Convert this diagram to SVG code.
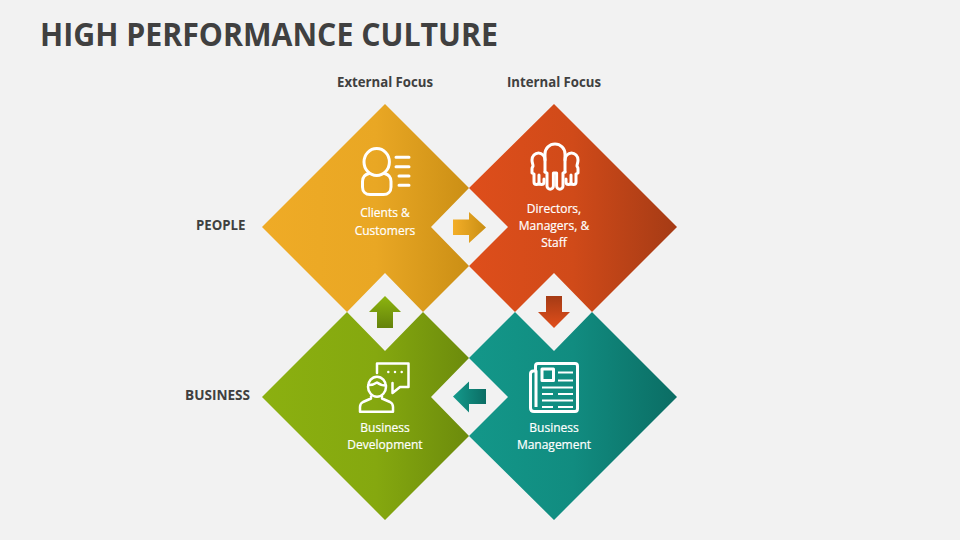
<svg xmlns="http://www.w3.org/2000/svg" width="960" height="540" viewBox="0 0 960 540">
<style>
.bg{fill:#f2f2f2}
.head{font-family:"Open Sans","Liberation Sans",sans-serif;font-weight:700;fill:#404040}
.lab{font-family:"Open Sans","Liberation Sans",sans-serif;font-size:12px;fill:#fff;stroke:#fff;stroke-width:.2px;text-anchor:middle}
.ico{fill:none;stroke:#fff;stroke-width:3;stroke-linejoin:round;stroke-linecap:round}
</style>
<defs>
<linearGradient id="gy" x1="0" x2="1" y1="0" y2="0"><stop offset="0" stop-color="#efab26"/><stop offset="0.55" stop-color="#e9a724"/><stop offset="1" stop-color="#cb8f15"/></linearGradient>
<linearGradient id="gr" x1="0" x2="1" y1="0" y2="0"><stop offset="0" stop-color="#de4e1b"/><stop offset="0.5" stop-color="#d04a19"/><stop offset="1" stop-color="#a53b15"/></linearGradient>
<linearGradient id="gg" x1="0" x2="1" y1="0" y2="0"><stop offset="0" stop-color="#8bb010"/><stop offset="0.55" stop-color="#85a80f"/><stop offset="1" stop-color="#6c8b0c"/></linearGradient>
<linearGradient id="gt" x1="0" x2="1" y1="0" y2="0"><stop offset="0" stop-color="#139789"/><stop offset="0.5" stop-color="#118c80"/><stop offset="1" stop-color="#0b6d64"/></linearGradient>
<linearGradient id="ay" x1="0" x2="1" y1="0" y2="0"><stop offset="0" stop-color="#f3ae28"/><stop offset="1" stop-color="#c98e14"/></linearGradient>
<linearGradient id="at" x1="0" x2="1" y1="0" y2="0"><stop offset="0" stop-color="#149a8c"/><stop offset="1" stop-color="#0b6d64"/></linearGradient>
<linearGradient id="aup" x1="0" x2="0" y1="0" y2="1"><stop offset="0" stop-color="#8db510"/><stop offset="1" stop-color="#64820b"/></linearGradient>
<linearGradient id="adn" x1="0" x2="0" y1="0" y2="1"><stop offset="0" stop-color="#a53b15"/><stop offset="1" stop-color="#e14e1b"/></linearGradient>
</defs>
<rect class="bg" width="960" height="540"/>
<text id="title" class="head" x="40" y="46" font-size="32" textLength="458" lengthAdjust="spacingAndGlyphs">HIGH PERFORMANCE CULTURE</text>
<text class="head" x="337" y="87" font-size="14" textLength="96" lengthAdjust="spacingAndGlyphs">External Focus</text>
<text class="head" x="507" y="87" font-size="14" textLength="94" lengthAdjust="spacingAndGlyphs">Internal Focus</text>
<text class="head" x="196" y="230" font-size="14" textLength="49.500" lengthAdjust="spacingAndGlyphs">PEOPLE</text>
<text class="head" x="185" y="400" font-size="14" textLength="65" lengthAdjust="spacingAndGlyphs">BUSINESS</text>

<g id="node-clients">
<polygon fill="url(#gy)" points="385,104 469,188 431,227 469,266 423,312 385,273 347,312 262,227"/>
<g class="ico"><ellipse cx="376.700" cy="162" rx="12.700" ry="13.500"/><path d="M369,173.500c-4,1-6.500,3.500-6.500,8v5.500c0,4.500 3,7.500 7.500,7.500h13.500c4.500,0 7.500-3 7.500-7.500v-5.500c0-4.500-2.500-7-6.500-8"/><path d="M396,157.300h13M396,166.700h13M399,176h10M399,185.300h10"/></g>
<text class="lab" x="385" y="217">Clients &amp;</text>
<text class="lab" x="385" y="235">Customers</text>
</g>

<g id="node-directors">
<polygon fill="url(#gr)" points="554,104 677,227 592,312 554,273 515,312 469,266 508,227 469,188"/>
<g class="ico"><path d="M545,172V154a10,10 0 0 1 20,0V172"/><path d="M545,172l2,1v13a3.200,3.200 0 0 0 6.400,0v-13h3.200v13a3.200,3.200 0 0 0 6.400,0v-13l2-1"/><path d="M545,160a6.500,7 0 0 0-13,0c0,3 1,4 1,6c0,1-1,1-1,3v4l2,1v8a2.500,2.500 0 0 0 5,0v-7v7a2.500,2.500 0 0 0 5,0v-3"/><path d="M565,160a6.500,7 0 0 1 13,0c0,3-1,4-1,6c0,1 1,1 1,3v4l-2,1v8a2.500,2.500 0 0 1-5,0v-7v7a2.500,2.500 0 0 1-5,0v-3"/></g>
<text class="lab" x="554" y="213">Directors,</text>
<text class="lab" x="554" y="230">Managers, &amp;</text>
<text class="lab" x="554" y="247">Staff</text>
</g>

<g id="node-development">
<polygon fill="url(#gg)" points="347,312 385,351 423,312 469,358 431,397 469,436 385,520 262,397"/>
<g class="ico" style="stroke-width:2.500"><path d="M377,373V363.500H408.500V387H400L392.500,393V383"/><path d="M388.300,372h0M395,372h0M401.700,372h0"/><ellipse cx="377" cy="386.700" rx="9" ry="10"/><path d="M368.500,385c3.500,0 6.500-1 8.500-2.500c2,1.500 5,3 9,3"/><path d="M371,396.500v2l-8,3.500q-3,1.500-3,5v4.800h33v-4.800q0-3.500-3-5l-8-3.500v-2"/></g>
<text class="lab" x="385" y="432">Business</text>
<text class="lab" x="385" y="449">Development</text>
</g>

<g id="node-management">
<polygon fill="url(#gt)" points="554,351 592,312 677,397 554,520 469,436 508,397 469,358 515,312"/>
<g class="ico" style="stroke-linecap:butt"><path d="M535.500,372v-6q0-2.500 2.500-2.500h37q2.500,0 2.500,2.500v42.500q0,3-2.500,3h-41q-3.500,0-3.500-3.500v-34q0-3 3-3h2.500v36"/><rect x="542" y="369" width="11.500" height="11.500"/><path d="M558,372.500h15M558,380.500h15M542,387.500h31M542,394h11M558,394h15M542,400.500h31M542,407h11M558,407h15" style="stroke-width:2"/></g>
<text class="lab" x="554" y="432">Business</text>
<text class="lab" x="554" y="449">Management</text>
</g>

<g id="connectors">
<polygon fill="url(#ay)" points="453,219.500 469,219.500 469,212 486,227.500 469,243 469,235 453,235"/>
<polygon fill="url(#adn)" points="546,296 562,296 562,312 570,312 554,328 538,312 546,312"/>
<polygon fill="url(#at)" points="486,389 469,389 469,381.500 453,396.500 469,412.500 469,404 486,404"/>
<polygon fill="url(#aup)" points="377,328 393,328 393,312 401,312 385,296 369,312 377,312"/>
</g>
</svg>
